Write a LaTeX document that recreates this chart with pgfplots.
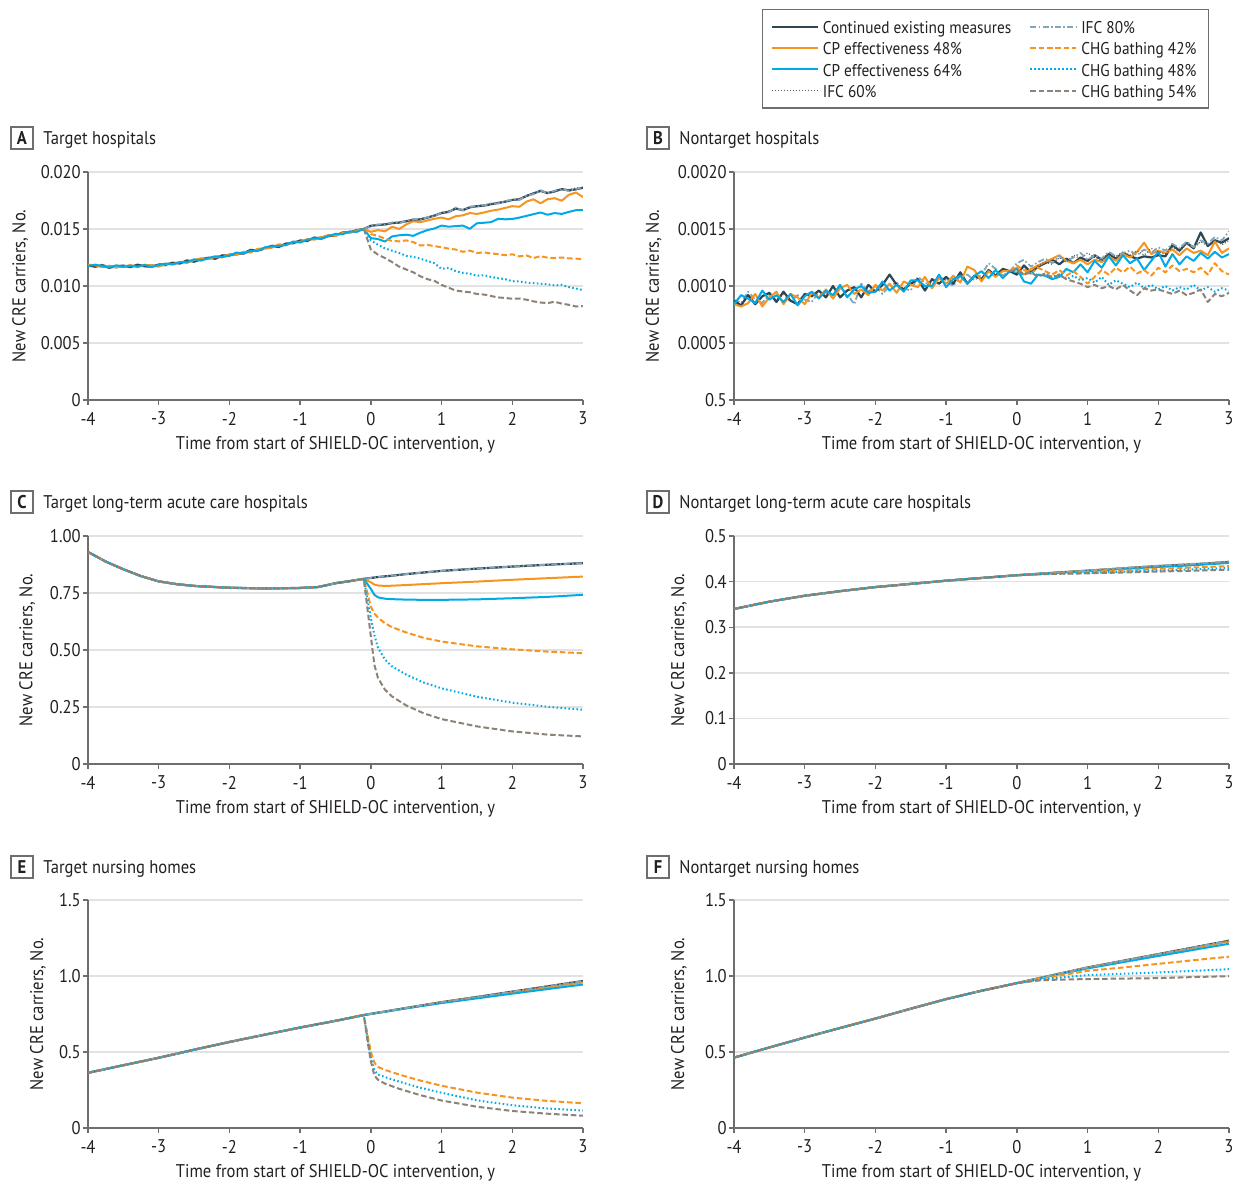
\documentclass[border=0pt]{standalone}
\usepackage{fontspec}
\setmainfont{PT Sans}[FakeStretch=0.9]
\usepackage{pgfplots}
\usepackage{pgfplotstable}
\pgfplotsset{compat=1.18}

\definecolor{contc}{RGB}{45,70,82}
\definecolor{orng}{RGB}{247,148,30}
\definecolor{cyn}{RGB}{0,170,230}
\definecolor{ifcg}{RGB}{90,90,90}
\definecolor{ifcb}{RGB}{130,165,185}
\definecolor{chgg}{RGB}{140,130,120}
\definecolor{axg}{RGB}{110,110,110}
\definecolor{grd}{RGB}{226,226,226}
\definecolor{txt}{RGB}{35,31,32}

\newcommand\ff{\fontsize{9.2}{11}\selectfont}
\newcommand\lf{\fontsize{8.5}{10}\selectfont}

\tikzset{
  cont/.style={contc, line width=1.1pt, solid},
  cp48/.style={orng, line width=1pt, solid},
  cp64/.style={cyn, line width=1pt, solid},
  ifc60/.style={ifcg, line width=0.6pt, dash pattern=on 0.5pt off 1pt},
  ifc80/.style={ifcb, line width=0.9pt, dash pattern=on 3pt off 1.2pt on 0.8pt off 1.2pt},
  chg42/.style={orng, line width=1pt, dash pattern=on 2.8pt off 1.4pt},
  chg48/.style={cyn, line width=1pt, dash pattern=on 0.8pt off 1.2pt},
  chg54/.style={chgg, line width=1pt, dash pattern=on 2.8pt off 1.4pt},
}

\pgfplotsset{
  panel/.style={
    scale only axis, width=247.5pt, height=114pt, anchor=south west,
    xmin=-4, xmax=3, ymin=0,
    axis x line*=bottom, axis y line*=left,
    axis line style={axg, line width=0.7pt},
    xtick={-4,...,3}, xticklabels={-4,-3,-2,-1,0,1,2,3},
    tick align=outside, major tick length=2.5pt,
    tick style={axg, line width=0.7pt},
    ymajorgrids, grid style={grd, line width=0.8pt},
    ticklabel style={font=\ff, text=txt},
    yticklabel style={inner xsep=1pt},
    label style={font=\ff, text=txt},
    xlabel={Time from start of SHIELD-OC intervention, y},
    ylabel={New CRE carriers, No.},
    xlabel style={at={(axis description cs:0.5,-0.215)}, anchor=base},
    no markers,
    every axis plot/.append style={line join=round},
  },
}

% Panel A: values in units of 1e-5
\pgfplotstableread{
x c o b l
-4.0 1182 1188 1176 1185
-3.9 1169 1181 1187 1172
-3.8 1181 1166 1175 1187
-3.7 1160 1178 1163 1169
-3.6 1173 1164 1182 1161
-3.5 1179 1170 1167 1176
-3.4 1166 1184 1178 1169
-3.3 1187 1166 1169 1184
-3.2 1173 1185 1185 1170
-3.1 1169 1181 1166 1184
-3.0 1188 1170 1185 1179
-2.9 1188 1194 1197 1179
-2.8 1204 1192 1189 1201
-2.7 1197 1212 1209 1206
-2.6 1224 1203 1209 1206
-2.5 1213 1228 1234 1231
-2.4 1235 1244 1223 1229
-2.3 1248 1236 1245 1236
-2.2 1239 1254 1260 1263
-2.1 1269 1251 1254 1257
-2.0 1267 1279 1267 1276
-1.9 1287 1278 1293 1272
-1.8 1284 1299 1287 1296
-1.7 1317 1293 1308 1311
-1.6 1311 1326 1308 1314
-1.5 1333 1330 1339 1321
-1.4 1351 1336 1348 1354
-1.3 1342 1366 1351 1357
-1.2 1372 1357 1360 1360
-1.1 1375 1384 1390 1387
-1.0 1399 1387 1381 1393
-0.9 1396 1411 1405 1393
-0.8 1425 1407 1419 1419
-0.7 1415 1427 1415 1430
-0.6 1439 1448 1439 1430
-0.5 1442 1439 1457 1451
-0.4 1469 1466 1454 1457
-0.3 1469 1466 1478 1481
-0.2 1490 1487 1475 1478
-0.1 1500 1500 1500 1500
}\Apre

\pgfplotstableread{
x c cp48 cp64 ifc60 ifc80 chg42 chg48 chg54
-0.1 1500 1500 1500 1500 1500 1500 1500 1500
0.0 1528 1475 1420 1532 1525 1455 1400 1320
0.1 1535 1490 1412 1532 1540 1440 1362 1275
0.2 1540 1480 1390 1546 1538 1415 1330 1245
0.3 1552 1520 1435 1550 1558 1395 1310 1210
0.4 1556 1500 1445 1561 1552 1392 1290 1170
0.5 1568 1540 1450 1571 1570 1400 1265 1145
0.6 1580 1568 1440 1576 1587 1385 1255 1120
0.7 1584 1560 1468 1591 1581 1355 1240 1085
0.8 1600 1575 1490 1602 1604 1360 1220 1060
0.9 1618 1590 1505 1615 1613 1350 1200 1045
1.0 1640 1600 1530 1645 1643 1340 1150 1010
1.1 1650 1585 1520 1658 1646 1328 1160 985
1.2 1680 1612 1525 1674 1688 1320 1130 960
1.3 1665 1620 1530 1671 1663 1300 1115 952
1.4 1690 1640 1502 1688 1696 1310 1108 945
1.5 1700 1632 1550 1704 1697 1290 1090 930
1.6 1705 1645 1555 1714 1707 1295 1095 925
1.7 1718 1660 1560 1715 1725 1285 1080 912
1.8 1728 1670 1590 1733 1724 1280 1068 900
1.9 1740 1685 1585 1742 1745 1270 1060 895
2.0 1755 1700 1588 1751 1758 1278 1042 888
2.1 1760 1695 1600 1770 1754 1260 1040 890
2.2 1790 1740 1615 1785 1794 1268 1030 880
2.3 1812 1760 1630 1815 1805 1245 1025 865
2.4 1835 1725 1645 1827 1840 1262 1020 855
2.5 1815 1762 1625 1821 1812 1248 1015 850
2.6 1830 1770 1640 1834 1836 1245 1005 862
2.7 1850 1748 1632 1844 1852 1250 1010 845
2.8 1838 1800 1650 1846 1833 1242 990 835
2.9 1848 1820 1665 1860 1852 1240 978 820
3.0 1862 1780 1665 1864 1860 1235 963 823
}\Apost

% Panel B: values in units of 1e-5
\pgfplotstableread{
x c o b l
-4.0 87 84 84 88
-3.9 83 82 92 85
-3.8 92 85 89 95
-3.7 84 93 85 88
-3.6 91 82 96 85
-3.5 94 90 88 93
-3.4 86 95 92 87
-3.3 95 84 86 93
-3.2 87 93 93 86
-3.1 84 90 83 92
-3.0 93 84 91 88
-2.9 91 94 95 86
-2.8 96 90 89 95
-2.7 90 97 96 94
-2.6 100 89 92 91
-2.5 90 98 101 99
-2.4 96 101 90 93
-2.3 99 93 97 84
-2.2 90 97 100 102
-2.1 101 92 94 95
-2.0 95 101 95 100
-1.9 101 96 104 93
-1.8 110 102 96 100
-1.7 101 94 101 103
-1.6 97 104 95 98
-1.5 102 101 105 96
-1.4 106 99 105 108
-1.3 96 108 100 103
-1.2 106 98 100 100
-1.1 102 107 110 108
-1.0 108 102 99 105
-0.9 102 109 106 100
-0.8 112 103 109 109
-0.7 102 117 102 110
-0.6 109 114 109 105
-0.5 106 104 113 110
-0.4 114 113 107 120
-0.3 109 108 114 115
-0.2 115 113 107 109
-0.1 113 113 113 113
}\Bpre

\pgfplotstableread{
x c cp48 cp64 ifc60 ifc80 chg42 chg48 chg54
-0.1 113 113 113 113 113 113 113 113
0.0 110 116 115 112 120 118 112 114
0.1 118 110 104 116 123 114 110 110
0.2 112 115 102 110 117 111 113 112
0.3 117 118 110 118 121 116 109 108
0.4 120 121 109 121 124 113 111 111
0.5 123 124 106 119 120 110 108 107
0.6 119 127 108 125 126 114 110 110
0.7 124 122 115 121 122 109 106 106
0.8 120 120 112 127 125 113 109 104
0.9 125 123 119 124 129 108 105 102
1.0 122 119 112 129 123 102 107 99
1.1 127 123 122 125 127 108 103 101
1.2 123 121 116 122 124 114 108 98
1.3 128 126 126 128 130 110 101 100
1.4 124 122 118 126 126 116 105 97
1.5 129 128 127 130 129 112 102 101
1.6 126 125 120 127 131 117 99 96
1.7 124 130 124 131 127 111 103 92
1.8 126 138 114 127 132 114 98 98
1.9 125 128 122 133 129 109 101 96
2.0 127 131 130 130 134 116 97 97
2.1 126 129 117 128 131 112 100 95
2.2 136 132 128 134 137 118 96 93
2.3 131 127 119 130 133 113 99 96
2.4 138 133 126 137 139 115 97 92
2.5 133 129 122 133 134 112 101 94
2.6 147 131 129 139 140 116 96 97
2.7 135 127 124 135 137 110 99 86
2.8 140 139 130 141 143 120 95 93
2.9 138 129 125 136 140 113 98 91
3.0 142 133 128 140 148 110 96 94
}\Bpost

\pgfplotstableread{
x c cp48 cp64 ifc60 ifc80 chg42 chg48 chg54
-4 0.930 0.930 0.930 0.930 0.930 0.930 0.930 0.930
-3.75 0.888 0.888 0.888 0.888 0.888 0.888 0.888 0.888
-3.5 0.854 0.854 0.854 0.854 0.854 0.854 0.854 0.854
-3.25 0.824 0.824 0.824 0.824 0.824 0.824 0.824 0.824
-3 0.801 0.801 0.801 0.801 0.801 0.801 0.801 0.801
-2.75 0.789 0.789 0.789 0.789 0.789 0.789 0.789 0.789
-2.5 0.781 0.781 0.781 0.781 0.781 0.781 0.781 0.781
-2 0.773 0.773 0.773 0.773 0.773 0.773 0.773 0.773
-1.5 0.770 0.770 0.770 0.770 0.770 0.770 0.770 0.770
-1 0.772 0.772 0.772 0.772 0.772 0.772 0.772 0.772
-0.75 0.776 0.776 0.776 0.776 0.776 0.776 0.776 0.776
-0.6 0.786 0.786 0.786 0.786 0.786 0.786 0.786 0.786
-0.5 0.793 0.793 0.793 0.793 0.793 0.793 0.793 0.793
-0.3 0.802 0.802 0.802 0.802 0.802 0.802 0.802 0.802
-0.1 0.812 0.812 0.812 0.812 0.812 0.812 0.812 0.812
0 0.816 0.797 0.768 0.816 0.816 0.690 0.640 0.560
0.05 0.818 0.787 0.742 0.818 0.818 0.660 0.565 0.435
0.1 0.820 0.783 0.731 0.820 0.820 0.642 0.510 0.378
0.2 0.823 0.781 0.725 0.823 0.823 0.617 0.458 0.326
0.3 0.826 0.782 0.723 0.826 0.826 0.600 0.428 0.296
0.5 0.833 0.785 0.721 0.833 0.833 0.577 0.392 0.257
0.75 0.840 0.789 0.720 0.840 0.840 0.553 0.357 0.222
1 0.847 0.793 0.720 0.847 0.847 0.537 0.332 0.197
1.5 0.857 0.800 0.722 0.857 0.857 0.516 0.295 0.165
2 0.866 0.808 0.727 0.866 0.866 0.503 0.269 0.143
2.5 0.874 0.815 0.733 0.874 0.874 0.493 0.251 0.129
3 0.881 0.822 0.742 0.881 0.881 0.486 0.238 0.121
}\Cdat

\pgfplotstableread{
x c cp48 cp64 ifc60 ifc80 chg42 chg48 chg54
-4 0.340 0.340 0.340 0.340 0.340 0.340 0.340 0.340
-3.5 0.356 0.356 0.356 0.356 0.356 0.356 0.356 0.356
-3 0.369 0.369 0.369 0.369 0.369 0.369 0.369 0.369
-2.5 0.379 0.379 0.379 0.379 0.379 0.379 0.379 0.379
-2 0.388 0.388 0.388 0.388 0.388 0.388 0.388 0.388
-1.5 0.395 0.395 0.395 0.395 0.395 0.395 0.395 0.395
-1 0.402 0.402 0.402 0.402 0.402 0.402 0.402 0.402
-0.5 0.408 0.408 0.408 0.408 0.408 0.408 0.408 0.408
0 0.414 0.414 0.414 0.414 0.414 0.414 0.414 0.414
0.5 0.419 0.419 0.419 0.419 0.419 0.418 0.417 0.417
1 0.424 0.424 0.423 0.424 0.424 0.421 0.419 0.418
1.5 0.429 0.429 0.428 0.429 0.430 0.425 0.422 0.420
2 0.434 0.433 0.432 0.434 0.435 0.428 0.424 0.422
2.5 0.438 0.437 0.436 0.438 0.439 0.431 0.427 0.424
3 0.443 0.442 0.441 0.443 0.444 0.434 0.430 0.426
}\Ddat

\pgfplotstableread{
x c cp48 cp64 ifc60 ifc80 chg42 chg48 chg54
-4 0.363 0.363 0.363 0.363 0.363 0.363 0.363 0.363
-3.5 0.413 0.413 0.413 0.413 0.413 0.413 0.413 0.413
-3 0.462 0.462 0.462 0.462 0.462 0.462 0.462 0.462
-2.5 0.515 0.515 0.515 0.515 0.515 0.515 0.515 0.515
-2 0.566 0.566 0.566 0.566 0.566 0.566 0.566 0.566
-1.5 0.614 0.614 0.614 0.614 0.614 0.614 0.614 0.614
-1 0.661 0.661 0.661 0.661 0.661 0.661 0.661 0.661
-0.5 0.705 0.705 0.705 0.705 0.705 0.705 0.705 0.705
-0.1 0.743 0.743 0.743 0.743 0.743 0.743 0.743 0.743
-0.05 0.747 0.747 0.747 0.747 0.747 0.620 0.600 0.580
0 0.751 0.751 0.751 0.751 0.751 0.500 0.460 0.440
0.05 0.755 0.755 0.754 0.755 0.755 0.430 0.378 0.345
0.1 0.759 0.759 0.758 0.759 0.759 0.402 0.352 0.318
0.2 0.766 0.766 0.765 0.766 0.766 0.382 0.335 0.292
0.4 0.782 0.781 0.780 0.782 0.782 0.352 0.305 0.258
0.7 0.805 0.804 0.801 0.805 0.805 0.312 0.265 0.216
1 0.828 0.826 0.822 0.828 0.828 0.278 0.232 0.181
1.5 0.862 0.859 0.853 0.862 0.862 0.233 0.182 0.140
2 0.897 0.892 0.884 0.897 0.897 0.200 0.150 0.112
2.5 0.932 0.925 0.914 0.932 0.932 0.178 0.128 0.094
3 0.967 0.958 0.944 0.967 0.967 0.163 0.115 0.081
}\Edat

\pgfplotstableread{
x c cp48 cp64 ifc60 ifc80 chg42 chg48 chg54
-4 0.463 0.463 0.463 0.463 0.463 0.463 0.463 0.463
-3.5 0.530 0.530 0.530 0.530 0.530 0.530 0.530 0.530
-3 0.595 0.595 0.595 0.595 0.595 0.595 0.595 0.595
-2.5 0.658 0.658 0.658 0.658 0.658 0.658 0.658 0.658
-2 0.720 0.720 0.720 0.720 0.720 0.720 0.720 0.720
-1.5 0.785 0.785 0.785 0.785 0.785 0.785 0.785 0.785
-1 0.848 0.848 0.848 0.848 0.848 0.848 0.848 0.848
-0.5 0.903 0.903 0.903 0.903 0.903 0.903 0.903 0.903
0 0.953 0.953 0.953 0.953 0.953 0.953 0.953 0.953
0.3 0.984 0.984 0.983 0.984 0.984 0.980 0.975 0.970
0.5 1.005 1.005 1.003 1.005 1.005 0.995 0.985 0.975
1 1.056 1.055 1.050 1.056 1.056 1.034 1.006 0.980
1.5 1.100 1.098 1.091 1.100 1.100 1.056 1.015 0.983
2 1.144 1.141 1.132 1.144 1.144 1.080 1.023 0.986
2.5 1.188 1.184 1.172 1.188 1.188 1.104 1.034 0.993
3 1.232 1.227 1.212 1.232 1.232 1.127 1.045 0.999
}\Fdat

% the eight scenarios of one table, in legend order
\newcommand\eight[2][]{%
  \addplot[cont,#1] table[y=c]{#2};
  \addplot[cp48,#1] table[y=cp48]{#2};
  \addplot[cp64,#1] table[y=cp64]{#2};
  \addplot[ifc60,#1] table[y=ifc60]{#2};
  \addplot[ifc80,#1] table[y=ifc80]{#2};
  \addplot[chg42,#1] table[y=chg42]{#2};
  \addplot[chg48,#1] table[y=chg48]{#2};
  \addplot[chg54,#1] table[y=chg54]{#2};
}
\newcommand\pre[2][]{%
  \addplot[ifc80,#1] table[y=l]{#2};
  \addplot[cont,#1] table[y=c]{#2};
  \addplot[cp48,#1] table[y=o]{#2};
  \addplot[cp64,#1] table[y=b]{#2};
}

\newcommand\ptitle[4]{%
  \node[draw=axg, line width=0.6pt, minimum size=11pt, inner sep=0pt,
        font=\ff\bfseries, text=txt] at (#1,#2) {#3};
  \node[anchor=west, font=\ff, text=txt, inner sep=0pt]
        at ([xshift=10.5pt,yshift=-0.8pt]#1,#2) {#4};
}

\begin{document}
\begin{tikzpicture}
\path[use as bounding box] (0,0) rectangle (618pt,-590.5pt);

\ptitle{11pt}{-69pt}{A}{Target hospitals}
\ptitle{329pt}{-69pt}{B}{Nontarget hospitals}
\ptitle{11pt}{-251pt}{C}{Target long-term acute care hospitals}
\ptitle{329pt}{-251pt}{D}{Nontarget long-term acute care hospitals}
\ptitle{11pt}{-433.5pt}{E}{Target nursing homes}
\ptitle{329pt}{-433.5pt}{F}{Nontarget nursing homes}

% A
\begin{axis}[panel, at={(44pt,-200pt)}, ymax=2000,
  ytick={0,500,1000,1500,2000}, yticklabels={0,0.005,0.010,0.015,0.020},
  ylabel style={at={(axis description cs:-0.137,0.5)}, anchor=center}]
\pre{\Apre}
\eight{\Apost}
\end{axis}

% B
\begin{axis}[panel, at={(367pt,-200pt)}, ymax=200,
  ytick={0,50,100,150,200}, yticklabels={0.5,0.0005,0.0010,0.0015,0.0020},
  ylabel style={at={(axis description cs:-0.162,0.5)}, anchor=center},
  legend columns=2, legend cell align=left,
  legend style={at={(axis description cs:0.0566,1.715)}, anchor=north west,
    draw=axg, line width=0.6pt, font=\lf, text=txt,
    inner xsep=4pt, inner ysep=3.2pt,
    nodes={inner ysep=1.5pt, text height=7.2pt, text depth=0.5pt},
    /tikz/every even column/.append style={column sep=7pt}},
  legend image code/.code={\draw[#1] (0pt,0pt) -- (23pt,0pt);}]
\pre[forget plot]{\Bpre}
\eight[forget plot]{\Bpost}
\addlegendimage{cont}\addlegendentry{Continued existing measures}
\addlegendimage{ifc80}\addlegendentry{IFC 80\%}
\addlegendimage{cp48}\addlegendentry{CP effectiveness 48\%}
\addlegendimage{chg42}\addlegendentry{CHG bathing 42\%}
\addlegendimage{cp64}\addlegendentry{CP effectiveness 64\%}
\addlegendimage{chg48}\addlegendentry{CHG bathing 48\%}
\addlegendimage{ifc60}\addlegendentry{IFC 60\%}
\addlegendimage{chg54}\addlegendentry{CHG bathing 54\%}
\end{axis}

% C
\begin{axis}[panel, at={(44pt,-382pt)}, ymax=1,
  ytick={0,0.25,0.5,0.75,1}, yticklabels={0,0.25,0.50,0.75,1.00},
  ylabel style={at={(axis description cs:-0.123,0.5)}, anchor=center}]
\eight{\Cdat}
\end{axis}

% D
\begin{axis}[panel, at={(367pt,-382pt)}, ymax=0.5,
  ytick={0,0.1,0.2,0.3,0.4,0.5}, yticklabels={0,0.1,0.2,0.3,0.4,0.5},
  ylabel style={at={(axis description cs:-0.111,0.5)}, anchor=center}]
\eight{\Ddat}
\end{axis}

% E
\begin{axis}[panel, at={(44pt,-564pt)}, ymax=1.5,
  ytick={0,0.5,1,1.5}, yticklabels={0,0.5,1.0,1.5},
  ylabel style={at={(axis description cs:-0.101,0.5)}, anchor=center}]
\eight{\Edat}
\end{axis}

% F
\begin{axis}[panel, at={(367pt,-564pt)}, ymax=1.5,
  ytick={0,0.5,1,1.5}, yticklabels={0,0.5,1.0,1.5},
  ylabel style={at={(axis description cs:-0.111,0.5)}, anchor=center}]
\eight{\Fdat}
\end{axis}

\end{tikzpicture}
\end{document}
